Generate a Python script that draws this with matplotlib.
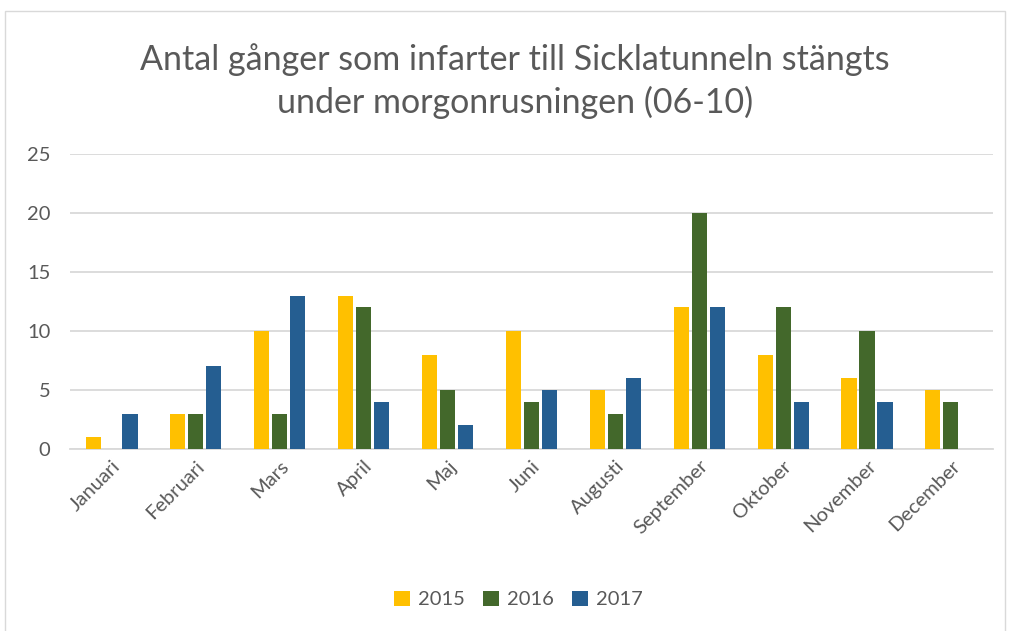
import numpy as np
import matplotlib.pyplot as plt
from matplotlib.patches import Rectangle

plt.rcParams['font.family'] = ['Lato', 'DejaVu Sans']

months = ['Januari', 'Februari', 'Mars', 'April', 'Maj', 'Juni', 'Augusti',
          'September', 'Oktober', 'November', 'December']
y2015 = [1, 3, 10, 13, 8, 10, 5, 12, 8, 6, 5]
y2016 = [0, 3, 3, 12, 5, 4, 3, 20, 12, 10, 4]
y2017 = [3, 7, 13, 4, 2, 5, 6, 12, 4, 4, 0]

colors = ['#FFC000', '#43682B', '#255E91']
text_color = '#595959'

fig = plt.figure(figsize=(10.1, 6.31), dpi=100)
ax = fig.add_axes([0.0693, 0.2884, 0.9137, 0.4676])

# light frame round the whole chart
fig.patches.append(Rectangle((0.005, -0.01), 0.99, 0.993, transform=fig.transFigure,
                             fill=False, edgecolor='#D9D9D9', linewidth=1))

x = np.arange(len(months))
w = 0.18
step = 0.215
for i, (vals, lab) in enumerate(zip([y2015, y2016, y2017], ['2015', '2016', '2017'])):
    ax.bar(x + (i - 1) * step, vals, width=w, color=colors[i], label=lab, zorder=3)

ax.set_xlim(-0.5, len(months) - 0.5)
ax.set_ylim(0, 25)
ax.set_yticks(range(0, 26, 5))
ax.yaxis.grid(True, color='#D9D9D9', linewidth=1.3, zorder=0)
ax.set_axisbelow(True)
for s in ['top', 'right', 'left']:
    ax.spines[s].set_visible(False)
ax.spines['bottom'].set_color('#D9D9D9')
ax.spines['bottom'].set_linewidth(1.3)
ax.tick_params(axis='both', length=0, colors=text_color, labelsize=14.5)
ax.tick_params(axis='y', pad=14)
ax.tick_params(axis='x', pad=6)
ax.set_xticks(x)
ax.set_xticklabels(months, rotation=45, ha='right', rotation_mode='anchor')

fig.text(0.51, 0.905, 'Antal gånger som infarter till Sicklatunneln stängts',
         ha='center', va='center', fontsize=24.5, color=text_color)
fig.text(0.51, 0.838, 'under morgonrusningen (06-10)',
         ha='center', va='center', fontsize=24.5, color=text_color)

fig.legend(loc='center', bbox_to_anchor=(0.513, 0.05), ncol=3, frameon=False,
           fontsize=14.5, labelcolor=text_color, handlelength=0.8, handleheight=0.8,
           columnspacing=0.9, handletextpad=0.4)

plt.savefig('out.png', dpi=100, facecolor='white')
